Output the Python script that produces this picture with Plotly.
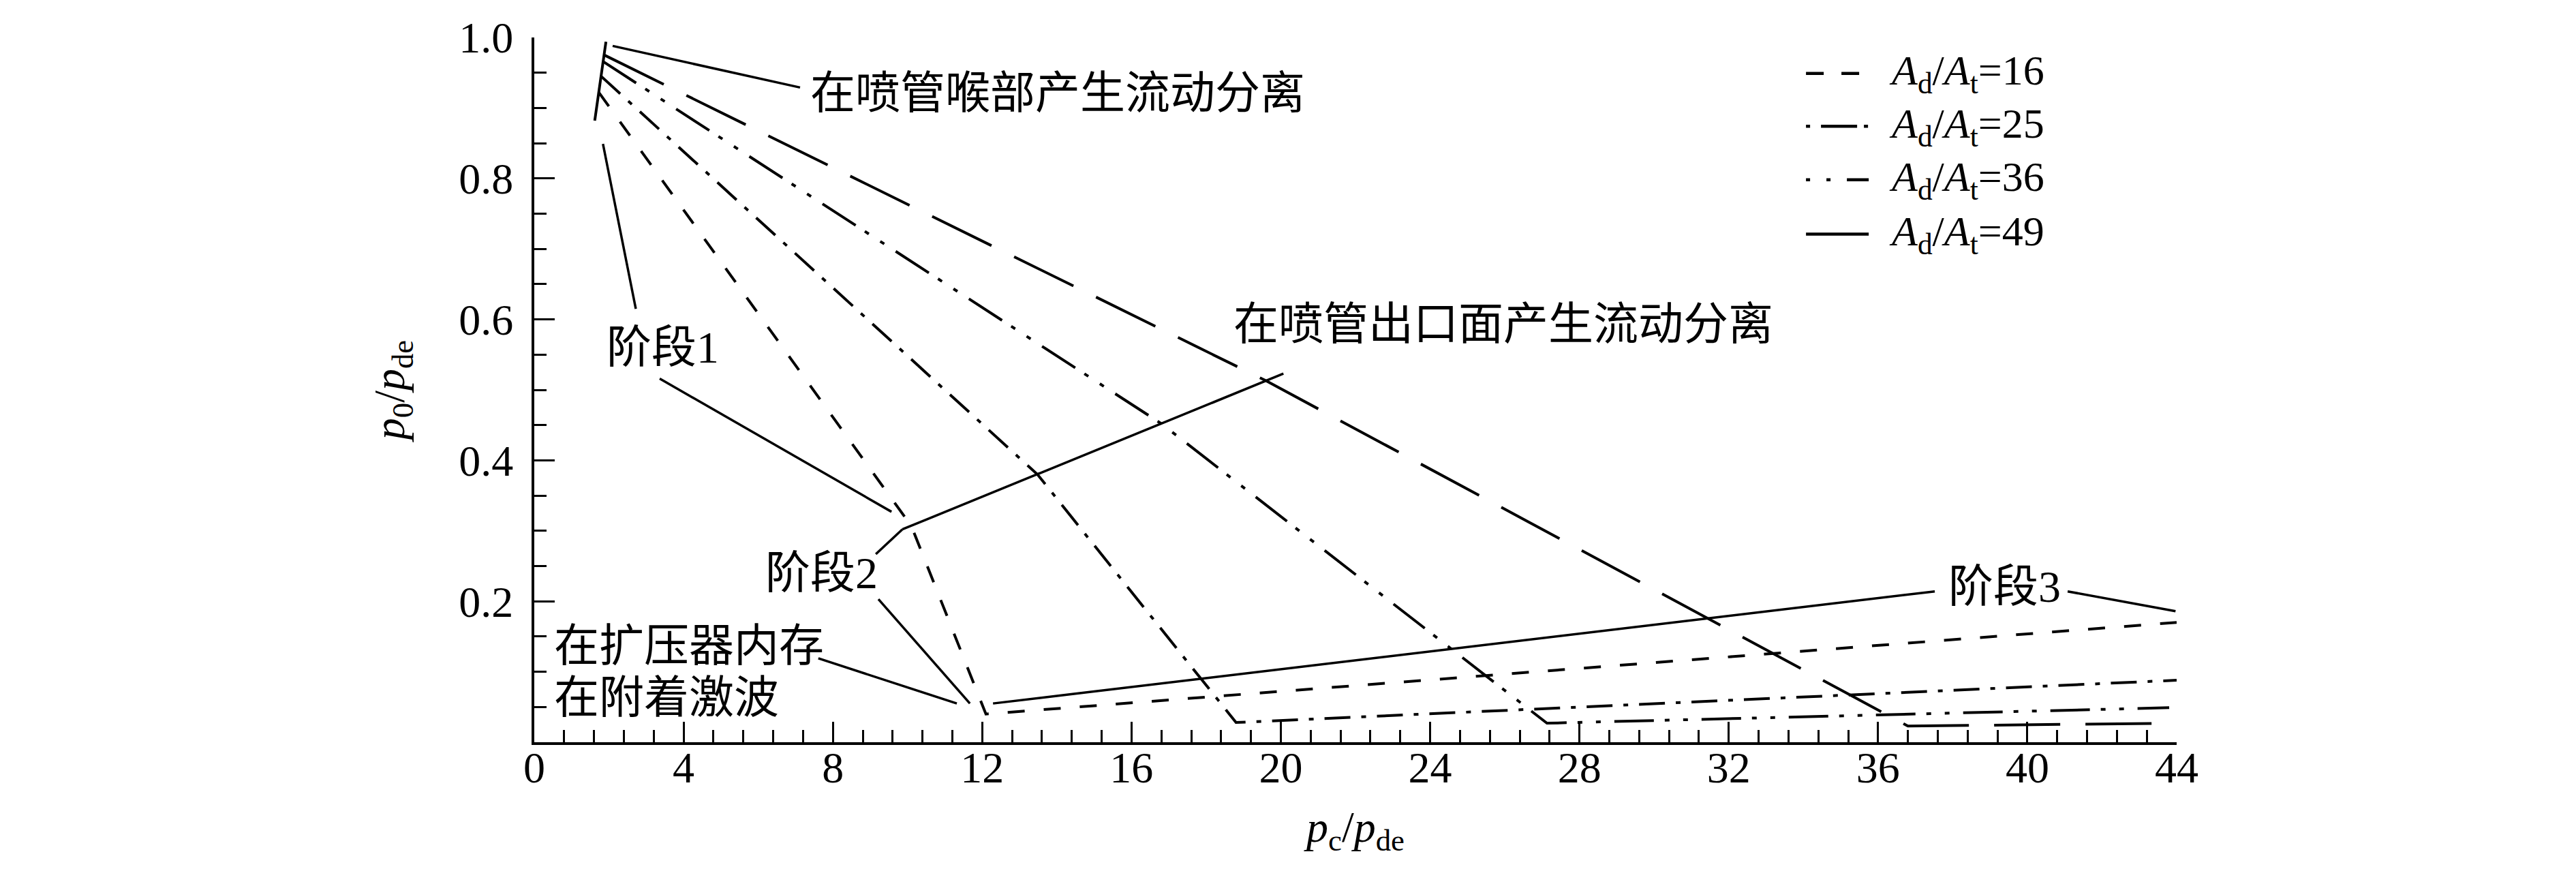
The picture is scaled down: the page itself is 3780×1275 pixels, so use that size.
import plotly.graph_objects as go

# p0/pde against pc/pde for four diffuser area ratios Ad/At
x_16 = [1.73, 10.1, 12.1, 44.0]
y_16 = [0.922, 0.307, 0.040, 0.170]
x_25 = [1.79, 13.48, 18.8, 44.0]
y_25 = [0.945, 0.380, 0.028, 0.088]
x_36 = [1.84, 16.8, 27.13, 43.8]
y_36 = [0.966, 0.452, 0.027, 0.049]
x_49 = [1.88, 19.6, 36.8, 44.0]
y_49 = [0.975, 0.513, 0.023, 0.027]

# stage 1 line, all curves branch off it
x_stage1 = [1.62, 1.92]
y_stage1 = [0.882, 0.994]

ratios = ["16", "25", "36", "49"]
x_ticks = list(range(0, 45, 4))
y_ticks = [0.2, 0.4, 0.6, 0.8, 1.0]

SERIF = "Liberation Serif"
MIXED = "Liberation Serif, Noto Sans CJK SC"

series = [(x_16, y_16), (x_25, y_25), (x_36, y_36), (x_49, y_49)]
plot_dash = ["25px,28px", "38px,16px,7px,16px", "58px,16px,7px,20px,7px,20px", "97px,37px"]
legend_dash = ["26px,26px", "6px,16px,53px,10px,6px,20px", "6px,24px,6px,24px,45px,20px", "solid"]

fig = go.Figure()

for (xs, ys), r, d in zip(series, ratios, plot_dash):
    fig.add_trace(go.Scatter(
        x=xs, y=ys, mode="lines", name="Ad/At=" + r,
        line=dict(color="black", width=4, dash=d),
        showlegend=False,
    ))

fig.add_trace(go.Scatter(
    x=x_stage1, y=y_stage1, mode="lines",
    line=dict(color="black", width=4),
    showlegend=False,
))

# leader lines for the text labels
leaders = [
    (2.10, 0.988, 7.12, 0.929),
    (2.72, 0.615, 1.84, 0.849),
    (3.36, 0.516, 9.57, 0.327),
    (9.86, 0.302, 20.07, 0.523),
    (9.15, 0.267, 9.86, 0.302),
    (9.22, 0.203, 11.67, 0.055),
    (7.61, 0.119, 11.32, 0.055),
    (12.29, 0.055, 37.52, 0.214),
    (41.08, 0.214, 43.97, 0.186),
]
shapes = []
for x0, y0, x1, y1 in leaders:
    shapes.append(dict(type="line", xref="x", yref="y", x0=x0, y0=y0, x1=x1, y1=y1,
                       line=dict(color="black", width=3.5)))

labels = [
    ("在喷管喉部产生流动分离", 7.35, 0.921),
    ("在喷管出口面产生流动分离", 18.7, 0.593),
    ("阶段1", 1.9, 0.56),
    ("阶段2", 6.15, 0.24),
    ("阶段3", 37.85, 0.221),
    ("在扩压器内存", 0.5, 0.137),
    ("在附着激波", 0.5, 0.063),
]
annotations = []
for text, x, y in labels:
    annotations.append(dict(text=text, x=x, y=y, xref="x", yref="y", showarrow=False,
                            xanchor="left", yanchor="middle",
                            font=dict(family=MIXED, size=66, color="black")))

# hand-made legend, top right inside the axes
legend_rows = [0.949, 0.874, 0.798, 0.721]
for r, d, ly in zip(ratios, legend_dash, legend_rows):
    shapes.append(dict(type="line", xref="x", yref="y", x0=34.07, x1=35.75, y0=ly, y1=ly,
                       line=dict(color="black", width=4.5, dash=d)))
    annotations.append(dict(text="<i>A</i><sub>d</sub>/<i>A</i><sub>t</sub>=" + r,
                            x=36.25, y=ly, xref="x", yref="y", showarrow=False,
                            xanchor="left", yanchor="middle",
                            font=dict(family=SERIF, size=62, color="black")))

fig.update_layout(
    width=3780,
    height=1275,
    margin=dict(l=776, r=594, t=37, b=194),
    plot_bgcolor="white",
    paper_bgcolor="white",
    showlegend=False,
    shapes=shapes,
    annotations=annotations,
    xaxis=dict(
        range=[0, 44],
        tickvals=x_ticks,
        ticks="inside", ticklen=30, tickwidth=3, tickcolor="black",
        minor=dict(dtick=0.8, tick0=0, ticks="inside", ticklen=18, tickwidth=3,
                   tickcolor="black", showgrid=False),
        showline=True, linewidth=4, linecolor="black",
        showgrid=False, zeroline=False,
        ticklabelstandoff=-22,
        tickfont=dict(family=SERIF, size=64, color="black"),
        title=dict(text="<i>p</i><sub>c</sub>/<i>p</i><sub>de</sub>",
                   font=dict(family=SERIF, size=64, color="black"), standoff=30),
    ),
    yaxis=dict(
        range=[0, 1.0],
        tickvals=y_ticks,
        tickformat=".1f",
        ticks="inside", ticklen=30, tickwidth=3, tickcolor="black",
        minor=dict(dtick=0.05, tick0=0, ticks="inside", ticklen=18, tickwidth=3,
                   tickcolor="black", showgrid=False),
        showline=True, linewidth=4, linecolor="black",
        showgrid=False, zeroline=False,
        ticklabelstandoff=14,
        tickfont=dict(family=SERIF, size=64, color="black"),
        title=dict(text="<i>p</i><sub>0</sub>/<i>p</i><sub>de</sub>",
                   font=dict(family=SERIF, size=64, color="black"), standoff=60),
    ),
)

fig.write_html("out.html")
